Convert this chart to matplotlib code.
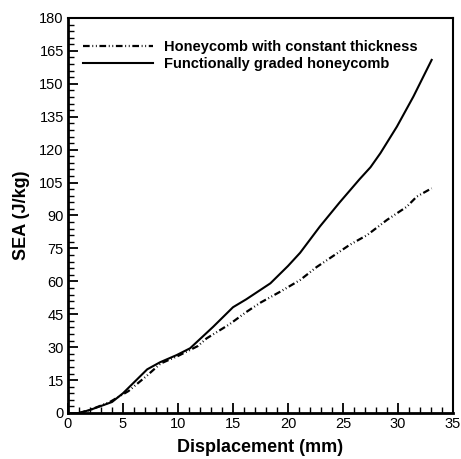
import matplotlib
matplotlib.use('Agg')
import matplotlib.pyplot as plt
import numpy as np
from matplotlib.ticker import MultipleLocator

plt.rcParams['font.family'] = ['Liberation Sans', 'DejaVu Sans']

# SEA vs crush displacement, constant-thickness honeycomb
disp_const = [1.0, 2.0, 3.8, 5.5, 7.15, 8.4, 10.0, 11.8, 12.6, 14.7, 16.2, 17.5,
              19.3, 21.1, 22.6, 24.0, 25.6, 27.2, 29.0, 30.8, 31.7, 33.06]
sea_const = [0.0, 1.4, 5.0, 10.0, 16.9, 22.5, 26.0, 30.5, 34.0, 40.5, 46.0, 50.3,
             55.3, 60.6, 66.5, 71.2, 76.6, 81.1, 88.0, 94.0, 98.6, 102.4]

# functionally graded honeycomb
disp_graded = [1.0, 2.0, 4.0, 5.0, 7.2, 8.36, 9.88, 11.1, 13.2, 15.0, 16.2, 18.4,
               20.0, 21.1, 22.0, 22.9, 24.7, 26.5, 27.5, 28.4, 29.9, 31.4, 33.06]
sea_graded = [0.0, 1.4, 5.0, 9.0, 19.9, 23.1, 26.4, 29.5, 39.3, 48.2, 51.8, 59.1,
              67.0, 73.0, 79.0, 85.0, 96.0, 106.5, 112.0, 118.4, 130.5, 144.2, 160.9]

fig = plt.figure(figsize=(4.61, 4.59), dpi=100)
ax = fig.add_axes([68 / 461, 46 / 459, 385 / 461, 395 / 459])

ax.plot(disp_const, sea_const, color='black', lw=1.6,
        linestyle=(0, (3, 1.2, 0.4, 1.2, 0.4, 1.2)),
        label='Honeycomb with constant thickness')
ax.plot(disp_graded, sea_graded, color='black', lw=1.5,
        label='Functionally graded honeycomb')

ax.set_xlim(0, 35)
ax.set_ylim(0, 180)
ax.xaxis.set_major_locator(MultipleLocator(5))
ax.xaxis.set_minor_locator(MultipleLocator(1))
ax.yaxis.set_major_locator(MultipleLocator(15))
ax.yaxis.set_minor_locator(MultipleLocator(3))

ax.tick_params(which='both', direction='in', top=False, right=False,
               labelsize=10.5, pad=3)
ax.tick_params(which='major', length=7, width=1.3)
ax.tick_params(which='minor', length=4, width=1.0)

for side in ['left', 'bottom']:
    ax.spines[side].set_linewidth(2.0)
for side in ['top', 'right']:
    ax.spines[side].set_linewidth(1.5)

ax.set_xlabel('Displacement (mm)', fontsize=13, fontweight='bold', labelpad=6)
ax.set_ylabel('SEA (J/kg)', fontsize=13, fontweight='bold', labelpad=7)

leg = ax.legend(loc='upper left', frameon=False, handlelength=4.8,
                handletextpad=0.75, labelspacing=0.25, borderpad=0,
                borderaxespad=0, bbox_to_anchor=(0.039, 0.945),
                prop={'weight': 'bold', 'size': 10.5})

fig.savefig('out.png', dpi=100)
